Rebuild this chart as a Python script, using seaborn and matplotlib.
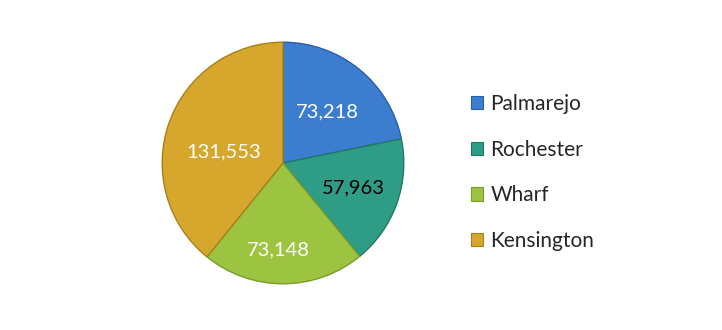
import numpy as np
import matplotlib
matplotlib.use("Agg")
import matplotlib.pyplot as plt
import matplotlib.patches as mpatches
import seaborn as sns

categories = ["Palmarejo", "Rochester", "Wharf", "Kensington"]
values = [73218, 57963, 73148, 131553]
value_labels = ["73,218", "57,963", "73,148", "131,553"]
colors = ["#3c7dd0", "#2f9c86", "#9dc440", "#d6a72c"]
edge_colors = ["#2a5fa8", "#1f7a66", "#7a9c2a", "#a8801a"]
text_colors = ["white", "black", "white", "white"]
label_radius = [0.56, 0.62, 0.72, 0.50]
label_angle_shift = [-2, 0, -3, 9]

sns.set_theme(style="white")
plt.rcParams["font.family"] = ["Lato", "DejaVu Sans"]

fig = plt.figure(figsize=(7.22, 3.30), dpi=100)
fig.patch.set_facecolor("white")
cx, cy, r = 283, 167, 122
ax = fig.add_axes([(cx - r) / 722, (cy - r) / 330, 2 * r / 722, 2 * r / 330])
palette = sns.color_palette(colors)
wedges, _ = ax.pie(values, colors=palette, startangle=90, counterclock=False,
                   radius=1.0, wedgeprops=dict(linewidth=1.0))
for w, ec in zip(wedges, edge_colors):
    w.set_edgecolor(ec)
ax.set_xlim(-1.01, 1.01)
ax.set_ylim(-1.01, 1.01)
ax.set_aspect("equal")
ax.axis("off")

for w, lab, tc, lr, sh in zip(wedges, value_labels, text_colors, label_radius, label_angle_shift):
    ang = np.deg2rad((w.theta1 + w.theta2) / 2 + sh)
    ax.text(lr * np.cos(ang), lr * np.sin(ang), lab, ha="center", va="center",
            color=tc, fontsize=14.5)

handles = [mpatches.Patch(facecolor=c, edgecolor=ec, linewidth=0.8, label=cat)
           for c, ec, cat in zip(colors, edge_colors, categories)]
fig.legend(handles=handles, loc="center left", bbox_to_anchor=(452 / 722, 1 - 172.5 / 330),
           frameon=False, fontsize=15, handlelength=0.6, handleheight=0.6,
           handletextpad=0.35, labelspacing=1.23, labelcolor="#262626")

fig.savefig("out.png", dpi=100, facecolor="white")
